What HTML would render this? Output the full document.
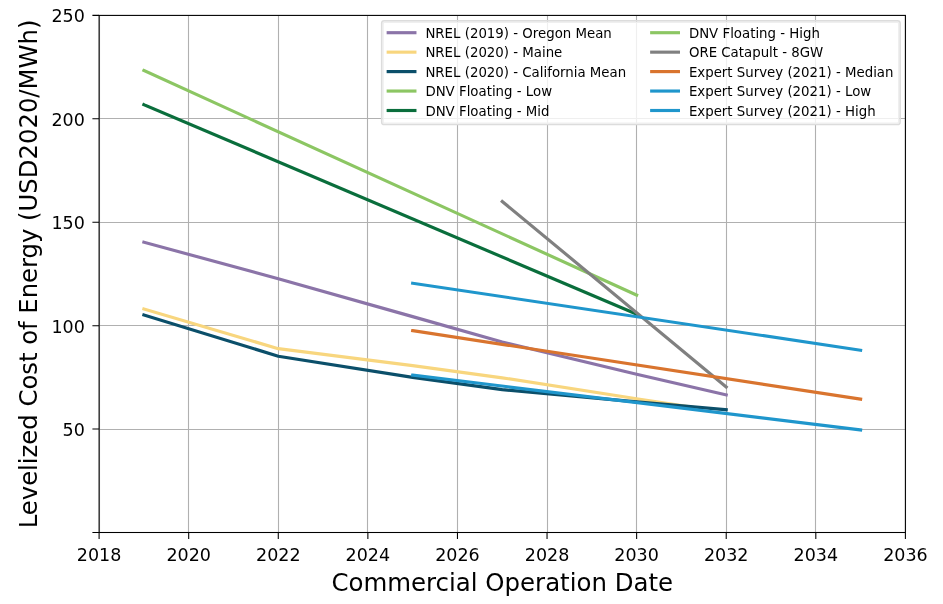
<!DOCTYPE html>
<html><head><meta charset="utf-8"><title>LCOE</title>
<style>html,body{margin:0;padding:0;background:#fff}svg{display:block}text{font-family:'DejaVu Sans','Liberation Sans',sans-serif;fill:#000}</style></head><body>
<svg width="943" height="604" viewBox="0 0 943 604">
<rect width="943" height="604" fill="#fff"/>
<path d="M99.50 15.40V532.50M188.50 15.40V532.50M278.50 15.40V532.50M367.50 15.40V532.50M457.50 15.40V532.50M547.50 15.40V532.50M636.50 15.40V532.50M726.50 15.40V532.50M815.50 15.40V532.50M905.50 15.40V532.50M99.10 532.50H905.40M99.10 429.50H905.40M99.10 325.50H905.40M99.10 222.50H905.40M99.10 118.50H905.40M99.10 15.50H905.40" stroke="#b0b0b0" stroke-width="1.1" fill="none"/>
<path d="M143.89 242.16L278.28 278.76L412.66 316.61L502.25 342.04L636.63 374.30L726.22 394.98" stroke="#8b74a8" stroke-width="3.15" fill="none" stroke-linecap="square" stroke-linejoin="round"/>
<path d="M143.89 308.96L278.28 348.66L412.66 365.62L502.25 377.82L636.63 398.71L694.87 407.60" stroke="#f8d67e" stroke-width="3.15" fill="none" stroke-linecap="square" stroke-linejoin="round"/>
<path d="M143.89 314.95L278.28 356.21L412.66 377.41L502.25 389.61L636.63 401.81L726.22 409.77" stroke="#0b4f6a" stroke-width="3.15" fill="none" stroke-linecap="square" stroke-linejoin="round"/>
<path d="M143.89 70.52L636.63 295.10" stroke="#8cc663" stroke-width="3.15" fill="none" stroke-linecap="square" stroke-linejoin="round"/>
<path d="M143.89 104.64L636.63 314.13" stroke="#0a6e3c" stroke-width="3.15" fill="none" stroke-linecap="square" stroke-linejoin="round"/>
<path d="M502.25 201.42L726.22 386.92" stroke="#808080" stroke-width="3.15" fill="none" stroke-linecap="square" stroke-linejoin="round"/>
<path d="M412.66 330.67L860.61 399.12" stroke="#d9742e" stroke-width="3.15" fill="none" stroke-linecap="square" stroke-linejoin="round"/>
<path d="M412.66 375.13L860.61 429.93" stroke="#1f96cc" stroke-width="3.15" fill="none" stroke-linecap="square" stroke-linejoin="round"/>
<path d="M412.66 283.21L860.61 350.21" stroke="#1f96cc" stroke-width="3.15" fill="none" stroke-linecap="square" stroke-linejoin="round"/>
<path d="M99.10 532.50v6.5M188.69 532.50v6.5M278.28 532.50v6.5M367.87 532.50v6.5M457.46 532.50v6.5M547.04 532.50v6.5M636.63 532.50v6.5M726.22 532.50v6.5M815.81 532.50v6.5M905.40 532.50v6.5M99.10 532.50h-6.7M99.10 429.08h-6.7M99.10 325.66h-6.7M99.10 222.24h-6.7M99.10 118.82h-6.7M99.10 15.40h-6.7" stroke="#000" stroke-width="1.07" fill="none"/>
<rect x="99.10" y="15.40" width="806.30" height="517.10" fill="none" stroke="#000" stroke-width="1.07"/>
<text x="99.10" y="560.8" font-size="17.5" text-anchor="middle">2018</text>
<text x="188.69" y="560.8" font-size="17.5" text-anchor="middle">2020</text>
<text x="278.28" y="560.8" font-size="17.5" text-anchor="middle">2022</text>
<text x="367.87" y="560.8" font-size="17.5" text-anchor="middle">2024</text>
<text x="457.46" y="560.8" font-size="17.5" text-anchor="middle">2026</text>
<text x="547.04" y="560.8" font-size="17.5" text-anchor="middle">2028</text>
<text x="636.63" y="560.8" font-size="17.5" text-anchor="middle">2030</text>
<text x="726.22" y="560.8" font-size="17.5" text-anchor="middle">2032</text>
<text x="815.81" y="560.8" font-size="17.5" text-anchor="middle">2034</text>
<text x="905.40" y="560.8" font-size="17.5" text-anchor="middle">2036</text>
<text x="84.9" y="436.08" font-size="17.5" text-anchor="end">50</text>
<text x="84.9" y="332.66" font-size="17.5" text-anchor="end">100</text>
<text x="84.9" y="229.24" font-size="17.5" text-anchor="end">150</text>
<text x="84.9" y="125.82" font-size="17.5" text-anchor="end">200</text>
<text x="84.9" y="22.40" font-size="17.5" text-anchor="end">250</text>
<text x="502.25" y="590.8" font-size="24.45" text-anchor="middle">Commercial Operation Date</text>
<text transform="translate(36.9 273.95) rotate(-90)" font-size="24.3" text-anchor="middle">Levelized Cost of Energy (USD2020/MWh)</text>
<rect x="383.0" y="22.2" width="515.8" height="101.0" rx="1.5" fill="#fff" fill-opacity="0.8" stroke="#efefef" stroke-width="1.6"/>
<rect x="381.6" y="20.8" width="518.6" height="103.8" rx="2.7" fill="none" stroke="#dcdcdc" stroke-width="1.4"/>
<path d="M388.20 32.70h26.7" stroke="#8b74a8" stroke-width="3.15" stroke-linecap="square"/>
<text x="425.40" y="37.80" font-size="13.33">NREL (2019) - Oregon Mean</text>
<path d="M388.20 52.15h26.7" stroke="#f8d67e" stroke-width="3.15" stroke-linecap="square"/>
<text x="425.40" y="57.25" font-size="13.33">NREL (2020) - Maine</text>
<path d="M388.20 71.60h26.7" stroke="#0b4f6a" stroke-width="3.15" stroke-linecap="square"/>
<text x="425.40" y="76.70" font-size="13.33">NREL (2020) - California Mean</text>
<path d="M388.20 91.05h26.7" stroke="#8cc663" stroke-width="3.15" stroke-linecap="square"/>
<text x="425.40" y="96.15" font-size="13.33">DNV Floating - Low</text>
<path d="M388.20 110.50h26.7" stroke="#0a6e3c" stroke-width="3.15" stroke-linecap="square"/>
<text x="425.40" y="115.60" font-size="13.33">DNV Floating - Mid</text>
<path d="M651.70 32.70h26.7" stroke="#8cc663" stroke-width="3.15" stroke-linecap="square"/>
<text x="688.90" y="37.80" font-size="13.33">DNV Floating - High</text>
<path d="M651.70 52.15h26.7" stroke="#808080" stroke-width="3.15" stroke-linecap="square"/>
<text x="688.90" y="57.25" font-size="13.33">ORE Catapult - 8GW</text>
<path d="M651.70 71.60h26.7" stroke="#d9742e" stroke-width="3.15" stroke-linecap="square"/>
<text x="688.90" y="76.70" font-size="13.33">Expert Survey (2021) - Median</text>
<path d="M651.70 91.05h26.7" stroke="#1f96cc" stroke-width="3.15" stroke-linecap="square"/>
<text x="688.90" y="96.15" font-size="13.33">Expert Survey (2021) - Low</text>
<path d="M651.70 110.50h26.7" stroke="#1f96cc" stroke-width="3.15" stroke-linecap="square"/>
<text x="688.90" y="115.60" font-size="13.33">Expert Survey (2021) - High</text>
</svg></body></html>
